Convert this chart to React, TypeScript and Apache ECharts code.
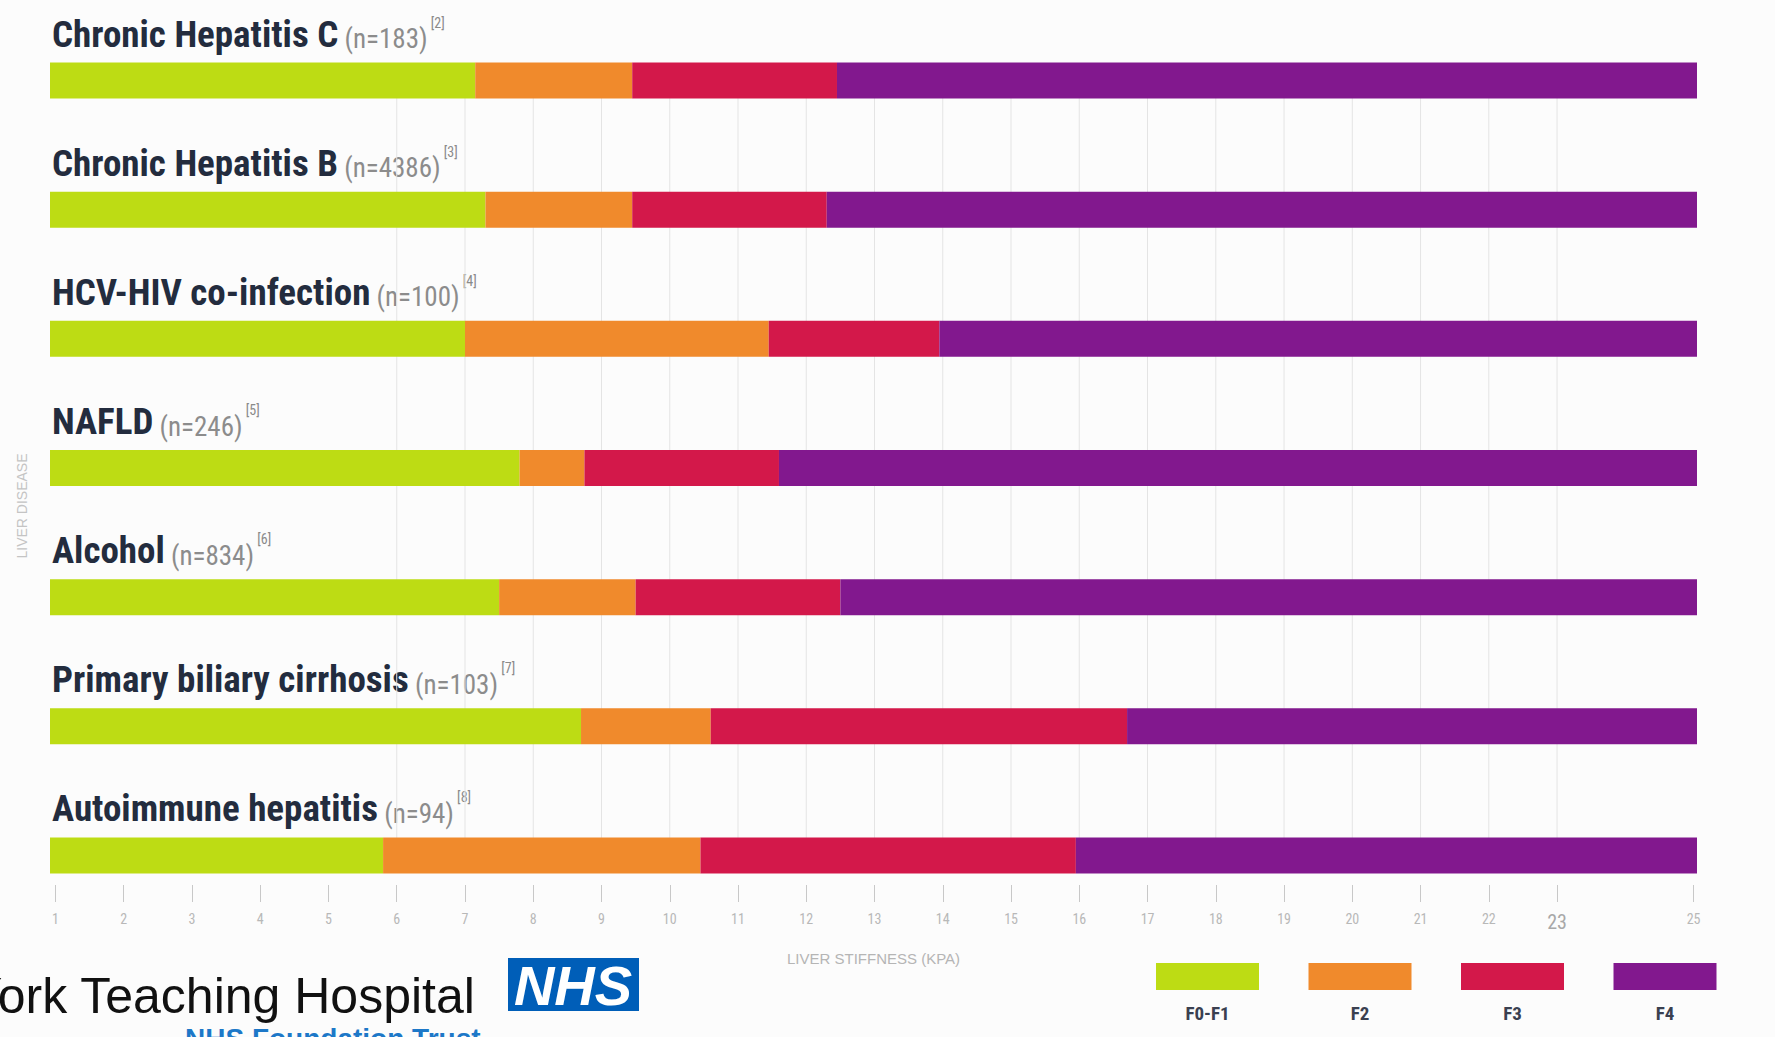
import React, { useEffect, useRef } from "react";
import * as echarts from "echarts";

// ---- data ----
const diseases = [
  "Chronic Hepatitis C",
  "Chronic Hepatitis B",
  "HCV-HIV co-infection",
  "NAFLD",
  "Alcohol",
  "Primary biliary cirrhosis",
  "Autoimmune hepatitis",
];
const sampleSizes = [183, 4386, 100, 246, 834, 103, 94];
const refNumbers = [2, 3, 4, 5, 6, 7, 8];
const stages = ["F0-F1", "F2", "F3", "F4"];
const stageColors = ["#bddc14", "#f08a2c", "#d3184a", "#82188e"];
// liver stiffness (kPa) at which each stage begins
const f2Start = [7.15, 7.3, 7.0, 7.8, 7.5, 8.7, 5.8];
const f3Start = [9.45, 9.45, 11.45, 8.75, 9.5, 10.6, 10.45];
const f4Start = [12.45, 12.3, 13.95, 11.6, 12.5, 16.7, 15.95];
const scaleMin = 0.92;
const scaleMax = 25.05;
const tickValues = [1, 2, 3, 4, 5, 6, 7, 8, 9, 10, 11, 12, 13, 14, 15, 16, 17, 18, 19, 20, 21, 22, 23, 25];
const gridValues = [6, 7, 8, 9, 10, 11, 12, 13, 14, 15, 16, 17, 18, 19, 20, 21, 22, 23];

const NARROW = "'Liberation Sans Narrow', 'Roboto Condensed', 'Liberation Sans', sans-serif";
const ARIAL = "'Liberation Sans', Arial, sans-serif";

export default function App() {
  const ref = useRef<HTMLDivElement>(null);

  useEffect(() => {
    if (!ref.current) return;
    const chart = echarts.init(ref.current, null, { renderer: "svg" });

    const segments = [
      f2Start.map((v) => v),
      f3Start.map((v, i) => v - f2Start[i]),
      f4Start.map((v, i) => v - f3Start[i]),
      f4Start.map((v) => scaleMax - v),
    ];

    const barSeries = stages.map((s, k) => ({
      type: "bar",
      name: s,
      stack: "kpa",
      barWidth: 36,
      z: 3,
      itemStyle: { color: stageColors[k] },
      data: segments[k],
    }));

    const legendItems: any[] = [];
    stages.forEach((s, i) => {
      const x = 1156 + i * 152.5;
      legendItems.push({
        type: "rect",
        shape: { x, y: 963, width: 103, height: 27 },
        style: { fill: stageColors[i] },
      });
      legendItems.push({
        type: "text",
        x: x + 51.5,
        y: 1013,
        style: {
          text: s,
          fill: "#3a4050",
          font: `bold 19px ${NARROW}`,
          align: "center",
          verticalAlign: "middle",
        },
      });
    });

    const option: any = {
      animation: false,
      backgroundColor: "#fcfcfc",
      grid: { left: 50, right: 78, top: 16, bottom: 117 },
      xAxis: {
        type: "value",
        min: scaleMin,
        max: scaleMax,
        offset: -35,
        axisLine: { show: false },
        splitLine: { show: false },
        axisTick: {
          show: true,
          length: 17,
          customValues: tickValues,
          lineStyle: { color: "#c8c8c8", width: 1 },
        },
        axisLabel: {
          customValues: tickValues,
          margin: 27,
          color: "#b8b8b8",
          fontSize: 14,
          fontFamily: NARROW,
          formatter: (v: number) => (v === 23 ? "{big|23}" : String(v)),
          rich: { big: { fontSize: 20, color: "#a8a8a8", fontFamily: NARROW } },
        },
        name: "LIVER STIFFNESS (KPA)",
        nameLocation: "middle",
        nameGap: 66,
        nameTextStyle: { color: "#b5b5b5", fontSize: 15, fontFamily: ARIAL },
      },
      yAxis: {
        type: "category",
        data: diseases,
        inverse: true,
        axisLine: { show: false },
        axisTick: { show: false },
        splitLine: { show: false },
        axisLabel: {
          inside: true,
          margin: 2,
          interval: 0,
          verticalAlign: "bottom",
          padding: [0, 0, 28, 0],
          formatter: (v: string, i: number) =>
            `{b|${v}}{n| (n=${sampleSizes[i]})}{s| [${refNumbers[i]}]}`,
          rich: {
            b: {
              fontSize: 37,
              lineHeight: 37,
              fontWeight: "bold",
              color: "#232c3e",
              fontFamily: NARROW,
              verticalAlign: "bottom",
            },
            n: {
              fontSize: 27,
              lineHeight: 34,
              color: "#8c8c8c",
              fontFamily: NARROW,
              verticalAlign: "bottom",
            },
            s: {
              fontSize: 14,
              lineHeight: 14,
              color: "#8a8a8a",
              fontFamily: NARROW,
              verticalAlign: "top",
            },
          },
        },
      },
      series: [
        {
          type: "custom",
          silent: true,
          z: 1,
          encode: { x: 0, y: 1 },
          data: gridValues.map((v) => [v, 0]),
          renderItem: (params: any, api: any) => {
            const v = api.value(0);
            const p1 = api.coord([v, 0]);
            const p2 = api.coord([v, diseases.length - 1]);
            return {
              type: "line",
              shape: { x1: p1[0], y1: p1[1], x2: p2[0], y2: p2[1] },
              style: { stroke: "#e4e4e4", lineWidth: 1 },
            };
          },
        },
        ...barSeries,
      ],
      graphic: [
        {
          type: "text",
          x: 22,
          y: 506,
          rotation: Math.PI / 2,
          style: {
            text: "LIVER DISEASE",
            fill: "#c4c4c4",
            font: `14px ${ARIAL}`,
            align: "center",
            verticalAlign: "middle",
          },
        },
        ...legendItems,
        {
          type: "text",
          x: -31,
          y: 996,
          style: {
            text: "York Teaching Hospital",
            fill: "#111111",
            font: `50px ${ARIAL}`,
            align: "left",
            verticalAlign: "middle",
          },
        },
        {
          type: "rect",
          shape: { x: 508, y: 958, width: 131, height: 53 },
          style: { fill: "#005eb8" },
        },
        {
          type: "text",
          x: 573,
          y: 985,
          style: {
            text: "NHS",
            fill: "#ffffff",
            font: `italic bold 56px ${ARIAL}`,
            align: "center",
            verticalAlign: "middle",
          },
        },
        {
          type: "text",
          x: 185,
          y: 1024,
          style: {
            text: "NHS Foundation Trust",
            fill: "#1d78c8",
            font: `bold 28px ${ARIAL}`,
            align: "left",
            verticalAlign: "top",
          },
        },
      ],
    };

    chart.setOption(option);
    return () => chart.dispose();
  }, []);

  return (
    <div
      ref={ref}
      style={{ position: "fixed", left: 0, top: 0, width: 1775, height: 1037 }}
    />
  );
}
